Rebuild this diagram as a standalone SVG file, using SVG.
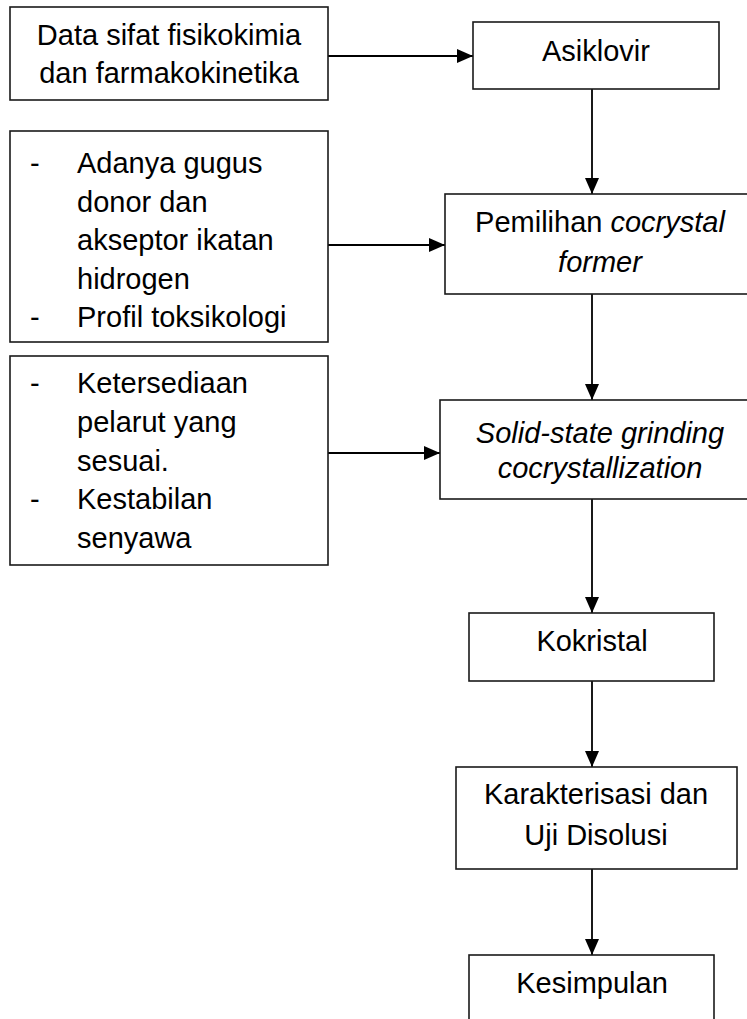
<svg xmlns="http://www.w3.org/2000/svg" width="747" height="1019" viewBox="0 0 747 1019">
<defs>
<marker id="ah" markerWidth="16" markerHeight="14" refX="16" refY="7" orient="auto" markerUnits="userSpaceOnUse">
<path d="M0,0 L16,7 L0,14 Z" fill="#000"/>
</marker>
<style>
.box{fill:#fff;stroke:#1a1a1a;stroke-width:1.6}
.t{font-family:"Liberation Sans",Arial,sans-serif;font-size:29px;fill:#000}
.c{text-anchor:middle}
.i{font-style:italic}
.ln{fill:none;stroke:#000;stroke-width:1.8}
</style>
</defs>
<rect width="747" height="1019" fill="#fff"/>
<g id="connectors">
<line class="ln" x1="328" y1="56" x2="473" y2="56" marker-end="url(#ah)"/>
<line class="ln" x1="592" y1="89" x2="592" y2="194" marker-end="url(#ah)"/>
<line class="ln" x1="328" y1="245" x2="445" y2="245" marker-end="url(#ah)"/>
<line class="ln" x1="592" y1="294" x2="592" y2="400" marker-end="url(#ah)"/>
<line class="ln" x1="328" y1="453" x2="440" y2="453" marker-end="url(#ah)"/>
<line class="ln" x1="592" y1="499" x2="592" y2="613" marker-end="url(#ah)"/>
<line class="ln" x1="592" y1="681" x2="592" y2="767" marker-end="url(#ah)"/>
<line class="ln" x1="592" y1="869" x2="592" y2="955" marker-end="url(#ah)"/>
</g>
<g id="n-data">
<rect class="box" x="10" y="7" width="318" height="93"/>
<text class="t c" x="169" y="45">Data sifat fisikokimia</text>
<text class="t c" x="169" y="83">dan farmakokinetika</text>
</g>
<g id="n-asiklovir">
<rect class="box" x="473" y="22" width="246" height="67"/>
<text class="t c" x="596" y="61">Asiklovir</text>
</g>
<g id="n-kriteria1">
<rect class="box" x="10" y="131" width="318" height="211"/>
<text class="t" x="30" y="173">-</text>
<text class="t" x="77" y="173">Adanya gugus</text>
<text class="t" x="77" y="211.5">donor dan</text>
<text class="t" x="77" y="250">akseptor ikatan</text>
<text class="t" x="77" y="288.5">hidrogen</text>
<text class="t" x="30" y="327">-</text>
<text class="t" x="77" y="327">Profil toksikologi</text>
</g>
<g id="n-pemilihan">
<rect class="box" x="445" y="194" width="310" height="100"/>
<text class="t c" x="600" y="232">Pemilihan <tspan class="i">cocrystal</tspan></text>
<text class="t c i" x="600" y="272">former</text>
</g>
<g id="n-kriteria2">
<rect class="box" x="10" y="356" width="318" height="209"/>
<text class="t" x="30" y="393">-</text>
<text class="t" x="77" y="393">Ketersediaan</text>
<text class="t" x="77" y="432">pelarut yang</text>
<text class="t" x="77" y="471">sesuai.</text>
<text class="t" x="30" y="509">-</text>
<text class="t" x="77" y="509">Kestabilan</text>
<text class="t" x="77" y="548">senyawa</text>
</g>
<g id="n-grinding">
<rect class="box" x="440" y="400" width="315" height="99"/>
<text class="t c i" x="600" y="443">Solid-state grinding</text>
<text class="t c i" x="600" y="478">cocrystallization</text>
</g>
<g id="n-kokristal">
<rect class="box" x="469" y="613" width="245" height="68"/>
<text class="t c" x="592" y="651">Kokristal</text>
</g>
<g id="n-karakterisasi">
<rect class="box" x="456" y="767" width="281" height="102"/>
<text class="t c" x="596" y="804">Karakterisasi dan</text>
<text class="t c" x="596" y="845">Uji Disolusi</text>
</g>
<g id="n-kesimpulan">
<rect class="box" x="469" y="955" width="245" height="80"/>
<text class="t c" x="592" y="993">Kesimpulan</text>
</g>
</svg>
